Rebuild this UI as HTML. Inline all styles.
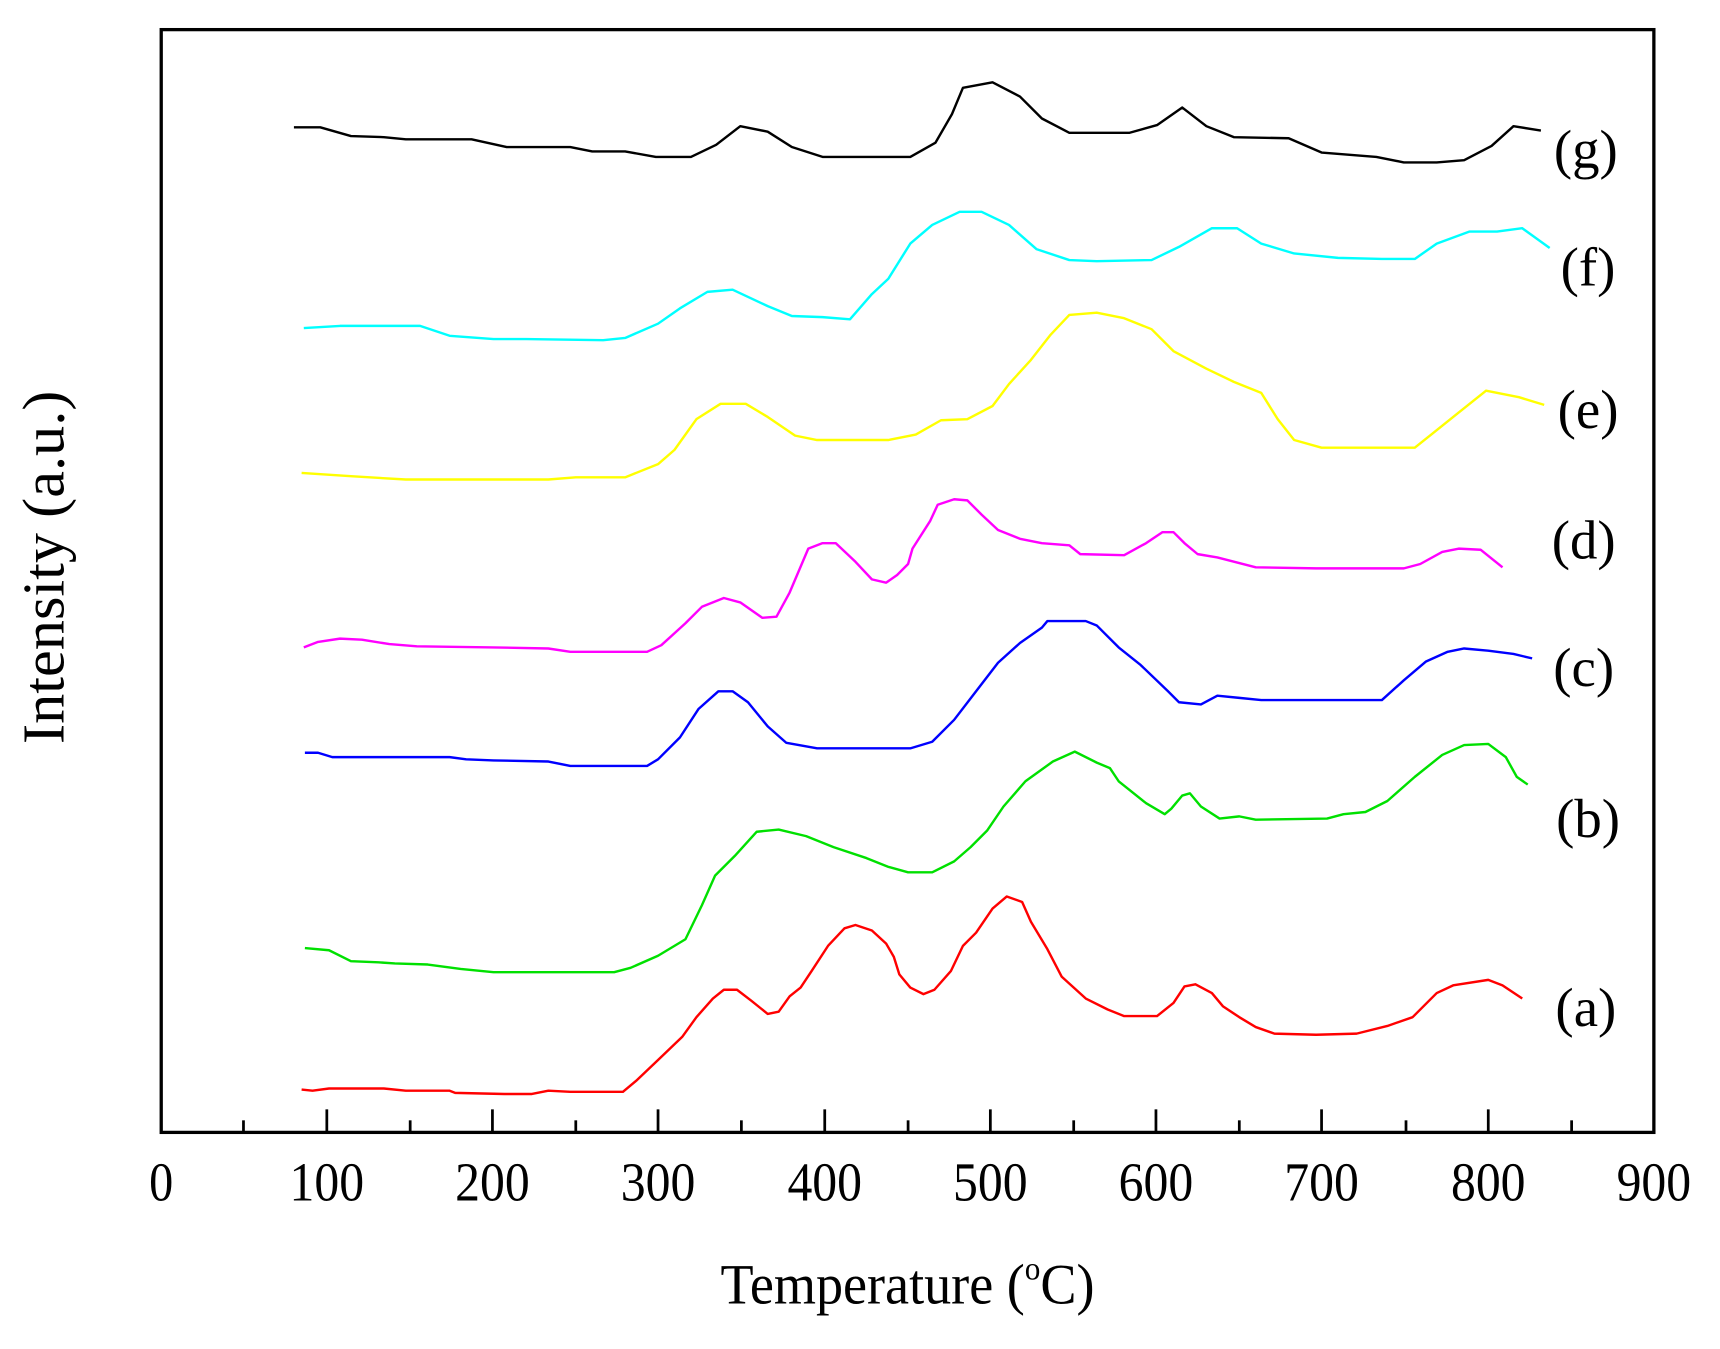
<!DOCTYPE html>
<html><head><style>html,body{margin:0;padding:0;background:#fff}svg{display:block}</style></head>
<body>
<svg width="1720" height="1349" viewBox="0 0 1568.3 1229.4" preserveAspectRatio="none" xmlns="http://www.w3.org/2000/svg" font-family="Liberation Serif, serif">
<rect width="1568.3" height="1229.4" fill="#fff"/>
<rect x="147" y="27" width="1361" height="1005" fill="none" stroke="#000" stroke-width="3"/>
<g stroke="#000" stroke-width="2.5">
<line x1="298" y1="1032" x2="298" y2="1011"/><line x1="449" y1="1032" x2="449" y2="1011"/><line x1="600" y1="1032" x2="600" y2="1011"/><line x1="752" y1="1032" x2="752" y2="1011"/><line x1="903" y1="1032" x2="903" y2="1011"/><line x1="1054" y1="1032" x2="1054" y2="1011"/><line x1="1205" y1="1032" x2="1205" y2="1011"/><line x1="1357" y1="1032" x2="1357" y2="1011"/>
<line x1="222" y1="1032" x2="222" y2="1021"/><line x1="374" y1="1032" x2="374" y2="1021"/><line x1="525" y1="1032" x2="525" y2="1021"/><line x1="676" y1="1032" x2="676" y2="1021"/><line x1="828" y1="1032" x2="828" y2="1021"/><line x1="979" y1="1032" x2="979" y2="1021"/><line x1="1130" y1="1032" x2="1130" y2="1021"/><line x1="1282" y1="1032" x2="1282" y2="1021"/><line x1="1433" y1="1032" x2="1433" y2="1021"/>
</g>
<g font-size="50" text-anchor="middle" fill="#000">
<text x="147" y="1094" textLength="22" lengthAdjust="spacingAndGlyphs">0</text><text x="298" y="1094" textLength="68" lengthAdjust="spacingAndGlyphs">100</text><text x="449" y="1094" textLength="68" lengthAdjust="spacingAndGlyphs">200</text><text x="600" y="1094" textLength="68" lengthAdjust="spacingAndGlyphs">300</text><text x="752" y="1094" textLength="68" lengthAdjust="spacingAndGlyphs">400</text><text x="903" y="1094" textLength="68" lengthAdjust="spacingAndGlyphs">500</text><text x="1054" y="1094" textLength="68" lengthAdjust="spacingAndGlyphs">600</text><text x="1205" y="1094" textLength="68" lengthAdjust="spacingAndGlyphs">700</text><text x="1357" y="1094" textLength="68" lengthAdjust="spacingAndGlyphs">800</text><text x="1508" y="1094" textLength="68" lengthAdjust="spacingAndGlyphs">900</text>
</g>
<text x="657" y="1188" font-size="52" textLength="341" lengthAdjust="spacingAndGlyphs">Temperature (<tspan font-size="30" dy="-22">o</tspan><tspan dy="22">C)</tspan></text>
<text transform="translate(58,517) rotate(-90)" font-size="54" text-anchor="middle" textLength="322" lengthAdjust="spacingAndGlyphs">Intensity (a.u.)</text>
<g font-size="50" text-anchor="middle">
<text x="1446" y="153">(g)</text><text x="1448" y="260">(f)</text><text x="1448" y="390">(e)</text><text x="1444" y="509">(d)</text><text x="1444" y="625">(c)</text><text x="1448" y="763">(b)</text><text x="1446" y="935">(a)</text>
</g>
<g fill="none" stroke-width="2.2" stroke-linejoin="round">
<polyline stroke="#ff0000" points="275,993 285,994 300,992 350,992 370,994 410,994 415,996 460,997 485,997 500,994 520,995 568,995 580,985 600,966 622,945 635,927 650,910 660,902 672,902 685,912 700,924 710,922 720,908 730,900 740,885 755,862 770,846 780,843 795,848 808,860 815,872 820,888 830,900 842,906 852,902 867,885 878,862 890,850 905,828 918,817 932,822 940,840 955,865 968,890 990,910 1010,920 1025,926 1055,926 1070,914 1080,899 1090,897 1105,905 1115,917 1130,927 1145,936 1162,942 1200,943 1237,942 1265,935 1288,927 1310,905 1325,898 1357,893 1370,898 1388,910"/>
<polyline stroke="#00e000" points="278,864 300,866 320,876 345,877 360,878 390,879 420,883 450,886 480,886 560,886 575,882 600,871 625,856 640,825 652,798 670,780 690,758 710,756 735,762 760,772 790,782 810,790 828,795 850,795 870,785 885,772 900,757 915,735 935,712 960,694 980,685 1000,695 1012,700 1020,712 1030,720 1045,732 1062,742 1068,737 1078,725 1085,723 1095,735 1112,746 1130,744 1145,747 1210,746 1225,742 1245,740 1265,730 1290,708 1315,688 1335,679 1357,678 1373,690 1383,708 1393,715"/>
<polyline stroke="#0000ff" points="278,686 290,686 303,690 350,690 410,690 425,692 450,693 500,694 520,698 590,698 600,692 620,672 637,646 655,630 668,630 682,640 700,662 717,677 745,682 830,682 850,676 870,656 890,630 910,604 930,586 950,572 955,566 990,566 1000,570 1020,590 1040,606 1065,630 1075,640 1095,642 1110,634 1130,636 1150,638 1260,638 1280,620 1300,603 1320,594 1335,591 1357,593 1380,596 1397,600"/>
<polyline stroke="#ff00ff" points="277,590 290,585 310,582 330,583 355,587 380,589 450,590 500,591 520,594 590,594 603,588 625,568 640,553 660,545 675,549 695,563 708,562 720,540 737,500 750,495 762,495 780,512 795,528 808,531 818,524 828,514 832,500 848,475 855,460 870,455 882,456 895,469 910,483 930,491 950,495 975,497 985,505 1025,506 1045,495 1060,485 1070,485 1080,495 1092,505 1110,508 1145,517 1200,518 1280,518 1295,514 1315,503 1330,500 1350,501 1370,517"/>
<polyline stroke="#ffff00" points="275,431 320,434 370,437 440,437 500,437 525,435 570,435 600,423 615,410 635,382 657,368 680,368 700,380 725,397 745,401 810,401 835,396 858,383 882,382 905,370 920,350 940,328 958,305 975,287 1000,285 1025,290 1050,300 1070,320 1100,336 1125,348 1150,358 1165,382 1180,401 1205,408 1260,408 1290,408 1305,396 1330,376 1355,356 1385,362 1408,369"/>
<polyline stroke="#00ffff" points="277,299 310,297 350,297 383,297 410,306 450,309 480,309 550,310 570,308 600,295 620,281 645,266 668,264 700,279 722,288 750,289 775,291 795,268 810,254 830,222 850,205 875,193 895,193 920,205 945,227 975,237 1000,238 1050,237 1075,225 1105,208 1128,208 1150,222 1180,231 1220,235 1260,236 1290,236 1310,222 1340,211 1365,211 1388,208 1413,226"/>
<polyline stroke="#000000" points="268,116 292,116 320,124 350,125 370,127 430,127 462,134 520,134 540,138 570,138 598,143 630,143 653,132 675,115 700,120 722,134 750,143 830,143 853,130 868,104 878,80 905,75 930,88 950,108 975,121 1030,121 1055,114 1078,98 1100,115 1125,125 1175,126 1205,139 1255,143 1280,148 1310,148 1335,146 1360,133 1380,115 1405,119"/>
</g>
</svg>
</body></html>
